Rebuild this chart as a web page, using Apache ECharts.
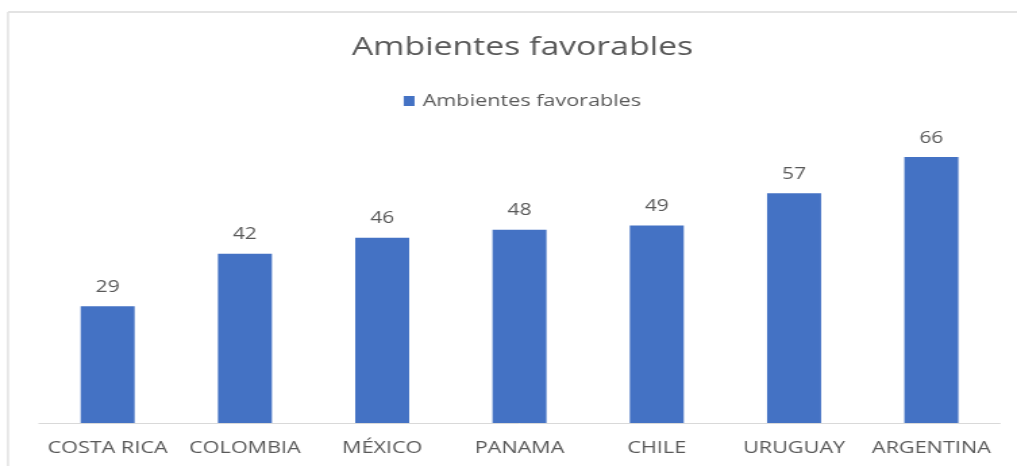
<!DOCTYPE html>
<html><head><meta charset="utf-8">
<script src="https://cdn.jsdelivr.net/npm/echarts@6/dist/echarts.min.js"></script>
<style>
html,body{margin:0;padding:0;background:#fff;overflow:hidden}
#wrap{width:1017px;height:466px;overflow:hidden}
#c{width:753px;height:466px;transform:scaleX(1.3506);transform-origin:0 0}
</style>
</head><body><div id="wrap"><div id="c"></div></div>
<script>
var categories = ['COSTA RICA','COLOMBIA','MÉXICO','PANAMA','CHILE','URUGUAY','ARGENTINA'];
var values = [29, 42, 46, 48, 49, 57, 66];
var seriesName = 'Ambientes favorables';
var titleText = 'Ambientes favorables';

var S = 1017 / 753; // horizontal stretch of the reference picture
var chart = echarts.init(document.getElementById('c'));
chart.setOption({
  animation: false,
  backgroundColor: '#ffffff',
  title: {
    text: titleText, left: 345 / S, top: 30,
    textStyle: {fontFamily: 'Open Sans', fontSize: 25, fontWeight: 'normal', color: '#595959'}
  },
  legend: {
    data: [seriesName], left: 397 / S, top: 88,
    itemWidth: 8, itemHeight: 10,
    icon: 'rect',
    textStyle: {fontFamily: 'Open Sans', fontSize: 16, color: '#595959', padding: [0,0,0,1]}
  },
  graphic: [
    {type: 'line', shape: {x1: 8 / S, y1: 12, x2: 753, y2: 12}, style: {stroke: '#e3e3e3', lineWidth: 2}},
    {type: 'line', shape: {x1: 8 / S, y1: 12, x2: 8 / S, y2: 466}, style: {stroke: '#e3e3e3', lineWidth: 1.5}}
  ],
  grid: {left: 39 / S, right: 753 - 1000 / S, top: 141, bottom: 43, containLabel: false},
  xAxis: {
    type: 'category', data: categories,
    axisLine: {lineStyle: {color: '#d9d9d9', width: 1}},
    axisTick: {show: false},
    axisLabel: {fontFamily: 'Open Sans', fontSize: 16, color: '#595959', margin: 17, interval: 0}
  },
  yAxis: {
    type: 'value', min: 0, max: 70, interval: 10, show: false,
    splitLine: {show: false}
  },
  series: [{
    name: seriesName, type: 'bar', data: values,
    barWidth: 54 / S,
    itemStyle: {color: '#4472c4'},
    label: {show: true, position: 'top', distance: 11, fontFamily: 'Open Sans', fontSize: 15.5, color: '#595959'}
  }]
});
</script></body></html>
